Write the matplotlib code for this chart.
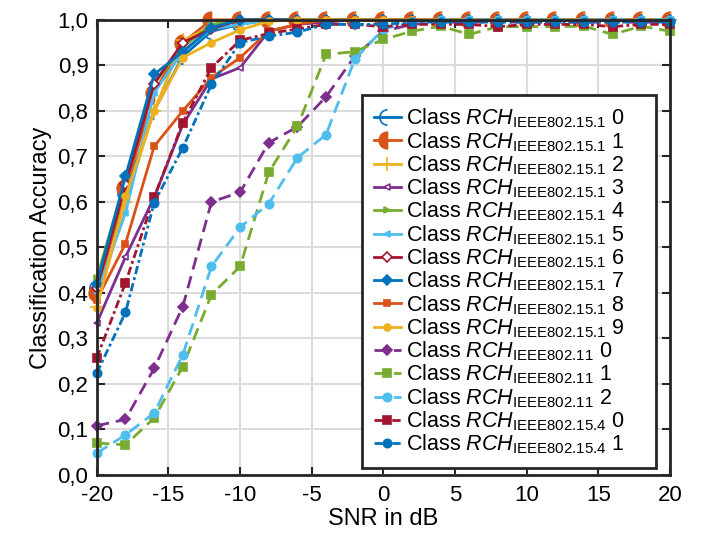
import matplotlib
matplotlib.use('Agg')
import matplotlib.pyplot as plt
from matplotlib.path import Path
import numpy as np

plt.rcParams['font.family'] = ['Liberation Sans', 'DejaVu Sans']
plt.rcParams['mathtext.fontset'] = 'custom'
plt.rcParams['mathtext.rm'] = 'Liberation Sans'
plt.rcParams['mathtext.it'] = 'Liberation Sans:italic'

snr = [-20, -18, -16, -14, -12, -10, -8, -6, -4, -2, 0, 2, 4, 6, 8, 10, 12, 14, 16, 18, 20]

bt0 = [0.41, 0.62, 0.80, 0.92, 0.975, 0.99, 1.0, 1.0, 1.0, 1.0, 1.0, 1.0, 1.0, 1.0, 1.0, 1.0, 1.0, 1.0, 1.0, 1.0, 1.0]
bt1 = [0.40, 0.63, 0.84, 0.95, 1.0, 1.0, 1.0, 1.0, 1.0, 1.0, 1.0, 1.0, 1.0, 1.0, 1.0, 1.0, 1.0, 1.0, 1.0, 1.0, 1.0]
bt2 = [0.37, 0.60, 0.80, 0.955, 0.985, 1.0, 1.0, 1.0, 1.0, 1.0, 1.0, 1.0, 1.0, 1.0, 1.0, 1.0, 1.0, 1.0, 1.0, 1.0, 1.0]
bt3 = [0.334, 0.479, 0.61, 0.77, 0.87, 0.895, 0.975, 0.99, 0.995, 1.0, 1.0, 1.0, 1.0, 1.0, 1.0, 1.0, 1.0, 1.0, 1.0, 1.0, 1.0]
bt4 = [0.433, 0.65, 0.86, 0.94, 0.99, 1.0, 1.0, 1.0, 1.0, 1.0, 1.0, 1.0, 1.0, 1.0, 1.0, 1.0, 1.0, 1.0, 1.0, 1.0, 1.0]
bt5 = [0.40, 0.575, 0.84, 0.93, 0.98, 0.99, 1.0, 1.0, 1.0, 1.0, 1.0, 1.0, 1.0, 1.0, 1.0, 1.0, 1.0, 1.0, 1.0, 1.0, 1.0]
bt6 = [0.41, 0.64, 0.86, 0.95, 0.98, 1.0, 1.0, 1.0, 1.0, 1.0, 1.0, 1.0, 1.0, 1.0, 1.0, 1.0, 1.0, 1.0, 1.0, 1.0, 1.0]
bt7 = [0.42, 0.656, 0.88, 0.93, 0.983, 1.0, 1.0, 1.0, 1.0, 1.0, 1.0, 1.0, 1.0, 1.0, 1.0, 1.0, 1.0, 1.0, 1.0, 1.0, 1.0]
bt8 = [0.385, 0.508, 0.722, 0.80, 0.873, 0.917, 0.975, 0.99, 1.0, 1.0, 1.0, 1.0, 1.0, 1.0, 1.0, 1.0, 1.0, 1.0, 1.0, 1.0, 1.0]
bt9 = [0.367, 0.612, 0.80, 0.917, 0.95, 0.978, 0.997, 1.0, 1.0, 1.0, 1.0, 1.0, 1.0, 1.0, 1.0, 1.0, 1.0, 1.0, 1.0, 1.0, 1.0]
wifi0 = [0.108, 0.122, 0.234, 0.37, 0.60, 0.621, 0.73, 0.765, 0.831, 0.92, 0.975, 0.99, 0.995, 0.995, 0.995, 0.995, 0.995, 0.995, 0.995, 0.995, 0.995]
wifi1 = [0.07, 0.066, 0.125, 0.238, 0.396, 0.458, 0.665, 0.766, 0.924, 0.93, 0.957, 0.975, 0.986, 0.968, 0.985, 0.985, 0.985, 0.986, 0.968, 0.986, 0.975]
wifi2 = [0.048, 0.088, 0.136, 0.264, 0.458, 0.544, 0.596, 0.697, 0.748, 0.913, 0.98, 0.995, 1.0, 1.0, 1.0, 1.0, 1.0, 1.0, 1.0, 1.0, 1.0]
zb0 = [0.257, 0.422, 0.61, 0.774, 0.895, 0.955, 0.97, 0.98, 0.99, 0.99, 0.985, 0.99, 0.99, 0.99, 0.985, 0.99, 0.99, 0.99, 0.985, 0.99, 0.99]
zb1 = [0.224, 0.357, 0.598, 0.719, 0.858, 0.95, 0.964, 0.973, 0.99, 0.99, 0.99, 0.995, 0.995, 0.995, 0.995, 0.995, 0.995, 0.995, 0.995, 0.995, 0.995]

x_ticks = [-20, -15, -10, -5, 0, 5, 10, 15, 20]
y_ticks = [0.0, 0.1, 0.2, 0.3, 0.4, 0.5, 0.6, 0.7, 0.8, 0.9, 1.0]
y_tick_labels = ['0,0', '0,1', '0,2', '0,3', '0,4', '0,5', '0,6', '0,7', '0,8', '0,9', '1,0']

# MATLAB default colours
blue = '#0072BD'
orange = '#D95319'
yellow = '#EDB120'
purple = '#7E2F8E'
green = '#77AC30'
lblue = '#4DBEEE'
dred = '#A2142F'

# custom markers: open left arc and filled left half disc
arc = Path.arc(90, 270)
half_disc = Path(np.vstack([Path.arc(90, 270).vertices, [[0, 1]]]),
                 list(Path.arc(90, 270).codes) + [Path.CLOSEPOLY])

sub_bt = r'$\mathit{RCH}_{\mathrm{IEEE802.15.1}}$'
sub_wifi = r'$\mathit{RCH}_{\mathrm{IEEE802.11}}$'
sub_zb = r'$\mathit{RCH}_{\mathrm{IEEE802.15.4}}$'

dash = (0, (4.5, 2.5))
dashdot = (0, (3, 1.2, 1, 1.2))

series = [
  (bt0, blue, '-', arc, 11, 'none', 'Class ' + sub_bt + ' 0'),
  (bt1, orange, '-', half_disc, 12, orange, 'Class ' + sub_bt + ' 1'),
  (bt2, yellow, '-', '+', 10, yellow, 'Class ' + sub_bt + ' 2'),
  (bt3, purple, '-', '<', 4, 'white', 'Class ' + sub_bt + ' 3'),
  (bt4, green, '-', '>', 4, green, 'Class ' + sub_bt + ' 4'),
  (bt5, lblue, '-', '<', 4, lblue, 'Class ' + sub_bt + ' 5'),
  (bt6, dred, '-', 'D', 5, 'white', 'Class ' + sub_bt + ' 6'),
  (bt7, blue, '-', 'D', 5, blue, 'Class ' + sub_bt + ' 7'),
  (bt8, orange, '-', 's', 4.5, orange, 'Class ' + sub_bt + ' 8'),
  (bt9, yellow, '-', 'o', 5, yellow, 'Class ' + sub_bt + ' 9'),
  (wifi0, purple, dash, 'D', 5.5, purple, 'Class ' + sub_wifi + ' 0'),
  (wifi1, green, dash, 's', 5.5, green, 'Class ' + sub_wifi + ' 1'),
  (wifi2, lblue, dash, 'o', 6, lblue, 'Class ' + sub_wifi + ' 2'),
  (zb0, dred, dashdot, 's', 5.5, dred, 'Class ' + sub_zb + ' 0'),
  (zb1, blue, dashdot, 'o', 6, blue, 'Class ' + sub_zb + ' 1'),
]

fig = plt.figure(figsize=(7.12, 5.36), dpi=100)
ax = fig.add_axes([0.136, 0.114, 0.805, 0.849])

for vals, col, ls, mk, ms, mfc, lab in series:
  ax.plot(snr, vals, color=col, linestyle=ls, linewidth=2, marker=mk, markersize=ms,
          markerfacecolor=mfc, markeredgecolor=col, markeredgewidth=1.2, label=lab,
          clip_on=False)

ax.set_xlim(-20, 20)
ax.set_ylim(0, 1)
ax.set_xticks(x_ticks)
ax.set_xticklabels([str(t) for t in x_ticks])
ax.set_yticks(y_ticks)
ax.set_yticklabels(y_tick_labels)
ax.grid(True, color='#DCDCDC', linewidth=1.5)
ax.set_axisbelow(True)
for sp in ax.spines.values():
  sp.set_linewidth(2)
  sp.set_color('#262626')
ax.tick_params(direction='in', length=6, width=1.5, top=True, right=True,
               labelsize=16, colors='#262626', labelcolor='black')
ax.tick_params(axis='x', pad=7)
ax.tick_params(axis='y', pad=6)
ax.set_xlabel('SNR in dB', fontsize=17, labelpad=2)
ax.set_ylabel('Classification Accuracy', fontsize=17)

leg = ax.legend(loc='lower right', bbox_to_anchor=(0.975, 0.015), borderaxespad=0,
                fontsize=15.5, fancybox=False, framealpha=1, edgecolor='#262626',
                handlelength=1.25, handletextpad=0.25, labelspacing=-0.015,
                borderpad=0.55)
leg.get_frame().set_linewidth(2)
# MATLAB leaves extra blank room right of the legend text
for t in leg.get_texts():
  t.set_text(t.get_text() + '    ')

plt.savefig('out.png', dpi=100)
plt.close()
